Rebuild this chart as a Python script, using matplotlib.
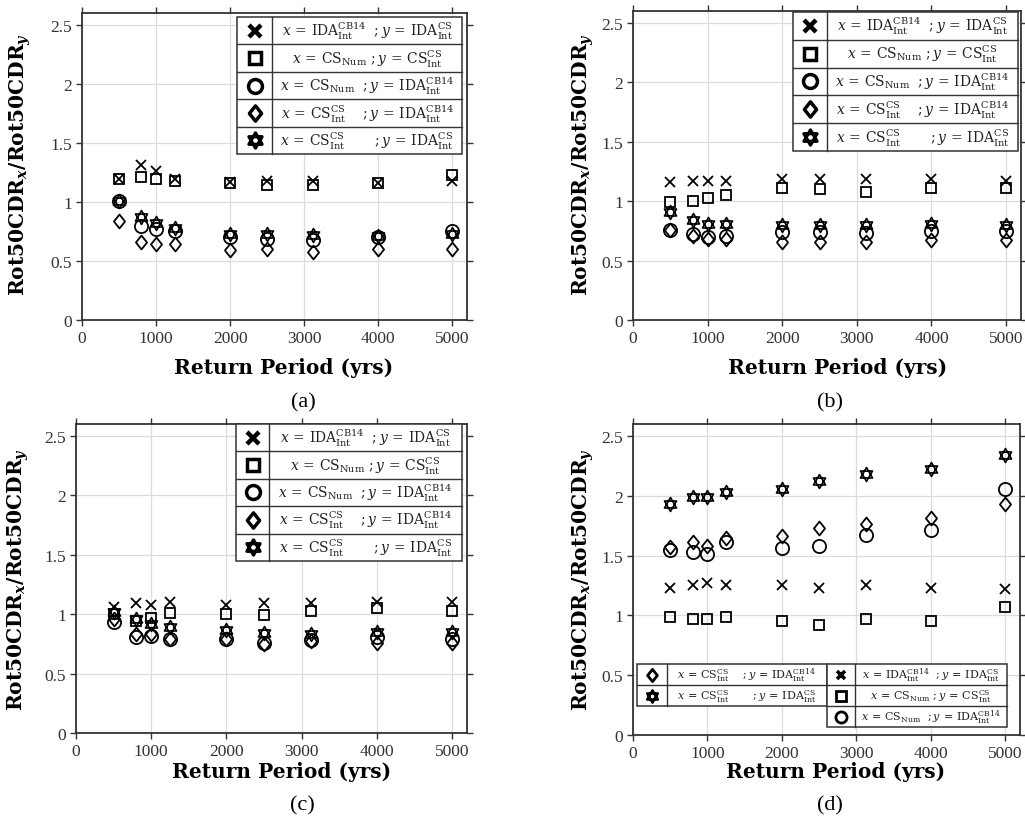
import matplotlib
matplotlib.use("Agg")
import matplotlib.pyplot as plt
import matplotlib.path as mpath
from matplotlib.patches import Rectangle
import numpy as np

# ---------------- data ----------------
return_period = [500, 800, 1000, 1250, 2000, 2500, 3125, 4000, 5000]

a_cross = [1.19, 1.31, 1.26, 1.19, 1.17, 1.18, 1.18, 1.16, 1.18]
a_square = [1.19, 1.21, 1.19, 1.18, 1.16, 1.14, 1.14, 1.16, 1.23]
a_circle = [1.01, 0.80, 0.77, 0.75, 0.70, 0.69, 0.68, 0.70, 0.75]
a_diamond = [0.84, 0.66, 0.64, 0.64, 0.59, 0.60, 0.58, 0.60, 0.60]
a_star = [1.01, 0.87, 0.82, 0.78, 0.73, 0.73, 0.72, 0.71, 0.73]

b_cross = [1.16, 1.17, 1.17, 1.17, 1.19, 1.19, 1.19, 1.19, 1.17]
b_square = [0.99, 1.00, 1.03, 1.05, 1.11, 1.10, 1.08, 1.11, 1.11]
b_circle = [0.76, 0.72, 0.70, 0.71, 0.74, 0.74, 0.73, 0.75, 0.75]
b_diamond = [0.76, 0.71, 0.68, 0.68, 0.66, 0.66, 0.66, 0.67, 0.67]
b_star = [0.91, 0.84, 0.81, 0.81, 0.80, 0.80, 0.80, 0.81, 0.80]

c_cross = [1.06, 1.09, 1.08, 1.10, 1.08, 1.09, 1.09, 1.10, 1.10]
c_square = [1.00, 0.94, 0.97, 1.01, 1.00, 0.99, 1.03, 1.05, 1.03]
c_circle = [0.93, 0.81, 0.82, 0.79, 0.79, 0.76, 0.78, 0.81, 0.79]
c_diamond = [0.96, 0.83, 0.83, 0.79, 0.79, 0.75, 0.77, 0.76, 0.76]
c_star = [1.02, 0.96, 0.92, 0.89, 0.87, 0.84, 0.83, 0.85, 0.85]

d_cross = [1.23, 1.25, 1.27, 1.25, 1.25, 1.23, 1.25, 1.23, 1.22]
d_square = [0.99, 0.97, 0.97, 0.99, 0.95, 0.92, 0.97, 0.95, 1.07]
d_circle = [1.55, 1.53, 1.51, 1.61, 1.56, 1.58, 1.67, 1.71, 2.06]
d_diamond = [1.57, 1.61, 1.58, 1.65, 1.66, 1.73, 1.76, 1.81, 1.93]
d_star = [1.93, 1.99, 1.99, 2.03, 2.06, 2.12, 2.18, 2.22, 2.34]

x_ticks = [0, 1000, 2000, 3000, 4000, 5000]
x_ticklabels = ["0", "1000", "2000", "3000", "4000", "5000"]
y_ticks = [0, 0.5, 1, 1.5, 2, 2.5]
y_ticklabels = ["0", "0.5", "1", "1.5", "2", "2.5"]

lab_cross = r"$x\,=\,\mathrm{IDA}_{\mathrm{Int}}^{\mathrm{CB14}}\ \ ;y\,=\,\mathrm{IDA}_{\mathrm{Int}}^{\mathrm{CS}}$"
lab_square = r"$x\,=\,\mathrm{CS}_{\mathrm{Num}}\ ;y\,=\,\mathrm{CS}_{\mathrm{Int}}^{\mathrm{CS}}$"
lab_circle = r"$x\,=\,\mathrm{CS}_{\mathrm{Num}}\ \ ;y\,=\,\mathrm{IDA}_{\mathrm{Int}}^{\mathrm{CB14}}$"
lab_diamond = r"$x\,=\,\mathrm{CS}_{\mathrm{Int}}^{\mathrm{CS}}\ \ \ \ ;y\,=\,\mathrm{IDA}_{\mathrm{Int}}^{\mathrm{CB14}}$"
lab_star = r"$x\,=\,\mathrm{CS}_{\mathrm{Int}}^{\mathrm{CS}}\ \ \ \ \ \ \ ;y\,=\,\mathrm{IDA}_{\mathrm{Int}}^{\mathrm{CS}}$"

panel_names = ["(a)", "(b)", "(c)", "(d)"]
xlabel_text = "Return Period (yrs)"
ylabel_text = r"Rot50CDR$_{\boldsymbol{x}}$/Rot50CDR$_{\boldsymbol{y}}$"

# ---------------- styles ----------------
plt.rcParams["font.family"] = ["Liberation Serif", "DejaVu Serif"]
plt.rcParams["mathtext.fontset"] = "dejavuserif"

P = mpath.Path
# hexagram (two overlapping triangles)
ang_up = np.deg2rad([90, 210, 330])
ang_dn = np.deg2rad([270, 30, 150])
hex_verts = []
hex_codes = []
for angs in (ang_up, ang_dn):
    pts = [(np.cos(a), np.sin(a)) for a in angs]
    hex_verts += pts + [pts[0]]
    hex_codes += [P.MOVETO, P.LINETO, P.LINETO, P.CLOSEPOLY]
hexagram = P(hex_verts, hex_codes)
diamond = P([(0, 1), (0.8, 0), (0, -1), (-0.8, 0), (0, 1)],
            [P.MOVETO, P.LINETO, P.LINETO, P.LINETO, P.CLOSEPOLY])

mk = {
    "cross": dict(marker="x", ms=7, mew=1.3),
    "square": dict(marker="s", ms=7.5, mew=1.3),
    "circle": dict(marker="o", ms=9.5, mew=1.3),
    "diamond": dict(marker=diamond, ms=10, mew=1.3),
    "star": dict(marker=hexagram, ms=10, mew=1.2),
}
mk_leg = {
    "cross": dict(marker="x", ms=8, mew=3.2),
    "square": dict(marker="s", ms=9, mew=2.5),
    "circle": dict(marker="o", ms=10, mew=2.5),
    "diamond": dict(marker=diamond, ms=11, mew=2.5),
    "star": dict(marker=hexagram, ms=11, mew=2.3),
}
labels = {"cross": lab_cross, "square": lab_square, "circle": lab_circle,
          "diamond": lab_diamond, "star": lab_star}

W, H = 1025, 828
fig = plt.figure(figsize=(W / 100, H / 100), dpi=100)


def px_axes(l, r, t, b):
    return fig.add_axes([l / W, 1 - b / H, (r - l) / W, (b - t) / H])


def style_axes(ax):
    ax.set_xlim(0, 5200)
    ax.set_ylim(0, 2.6)
    ax.set_xticks(x_ticks)
    ax.set_xticklabels(x_ticklabels)
    ax.set_yticks(y_ticks)
    ax.set_yticklabels(y_ticklabels)
    ax.tick_params(direction="out", length=4, width=1, colors="#333333",
                   labelsize=12.5, top=True, right=True, pad=3)
    for lab in ax.get_xticklabels() + ax.get_yticklabels():
        lab.set_color("#333333")
    ax.grid(True, color="#dcdcdc", linewidth=0.9)
    ax.set_axisbelow(True)
    for sp in ax.spines.values():
        sp.set_color("#333333")
        sp.set_linewidth(1.3)


def plot_series(ax, series):
    for key, vals in series:
        ax.plot(return_period, vals, linestyle="none", color="black",
                markerfacecolor="none", markeredgecolor="black",
                zorder=3, **mk[key])


def draw_table(ax, x0, xdiv, x1, ytop, rowh, keys, fs, leg_scale=1.0):
    n = len(keys)
    ybot = ytop - n * rowh
    ax.add_patch(Rectangle((x0, ybot), x1 - x0, n * rowh, transform=ax.transAxes,
                           facecolor="white", edgecolor="#333333", lw=1.1,
                           zorder=6, clip_on=False))
    ax.plot([xdiv, xdiv], [ybot, ytop], transform=ax.transAxes, color="#333333",
            lw=1.0, zorder=7, clip_on=False)
    for i in range(1, n):
        yy = ytop - i * rowh
        ax.plot([x0, x1], [yy, yy], transform=ax.transAxes, color="#333333",
                lw=1.0, zorder=7, clip_on=False)
    for i, key in enumerate(keys):
        yc = ytop - (i + 0.5) * rowh
        st = dict(mk_leg[key])
        st["ms"] = st["ms"] * leg_scale
        st["mew"] = st["mew"] * leg_scale
        ax.plot([(x0 + xdiv) / 2], [yc], transform=ax.transAxes, linestyle="none",
                color="black", markerfacecolor="none", markeredgecolor="black",
                zorder=8, clip_on=False, **st)
        ax.text((xdiv + x1) / 2, yc, labels[key], transform=ax.transAxes,
                ha="center", va="center", fontsize=fs, zorder=8, color="#222222")


order5 = ["cross", "square", "circle", "diamond", "star"]

# (a)
ax_a = px_axes(82, 467, 14, 321)
style_axes(ax_a)
plot_series(ax_a, [("cross", a_cross), ("square", a_square), ("circle", a_circle),
                   ("diamond", a_diamond), ("star", a_star)])
draw_table(ax_a, 0.403, 0.494, 0.987, 0.987, 0.0893, order5, 10)

# (b)
ax_b = px_axes(633, 1021, 12, 321)
style_axes(ax_b)
plot_series(ax_b, [("cross", b_cross), ("square", b_square), ("circle", b_circle),
                   ("diamond", b_diamond), ("star", b_star)])
draw_table(ax_b, 0.412, 0.500, 0.992, 0.997, 0.090, order5, 10)

# (c)
ax_c = px_axes(76, 467, 425, 734)
style_axes(ax_c)
plot_series(ax_c, [("cross", c_cross), ("square", c_square), ("circle", c_circle),
                   ("diamond", c_diamond), ("star", c_star)])
draw_table(ax_c, 0.409, 0.494, 0.987, 1.0, 0.0886, order5, 10)

# (d)
ax_d = px_axes(633, 1020, 425, 736)
style_axes(ax_d)
plot_series(ax_d, [("cross", d_cross), ("square", d_square), ("circle", d_circle),
                   ("diamond", d_diamond), ("star", d_star)])
draw_table(ax_d, 0.010, 0.088, 0.501, 0.228, 0.0675, ["diamond", "star"], 8, 0.8)
draw_table(ax_d, 0.501, 0.574, 0.966, 0.228, 0.0675, ["cross", "square", "circle"], 8, 0.8)

# axis labels and panel letters
lab_font = dict(family="DejaVu Serif", weight="bold", fontsize=14.5)
for (xl, yl, letter, ylx, yly) in [((284, 368), (303, 403), "(a)", 20, 165),
                                   ((838, 368), (830, 403), "(b)", 583, 165),
                                   ((282, 772), (302, 806), "(c)", 18, 580),
                                   ((836, 772), (830, 806), "(d)", 583, 580)]:
    fig.text(xl[0] / W, 1 - xl[1] / H, xlabel_text, ha="center", va="center", **lab_font)
    fig.text(yl[0] / W, 1 - yl[1] / H, letter, ha="center", va="center",
             fontsize=16, family="Liberation Serif")
    fig.text(ylx / W, 1 - yly / H, ylabel_text, ha="center", va="center",
             rotation=90, **lab_font)

fig.savefig("out.png", dpi=100)
